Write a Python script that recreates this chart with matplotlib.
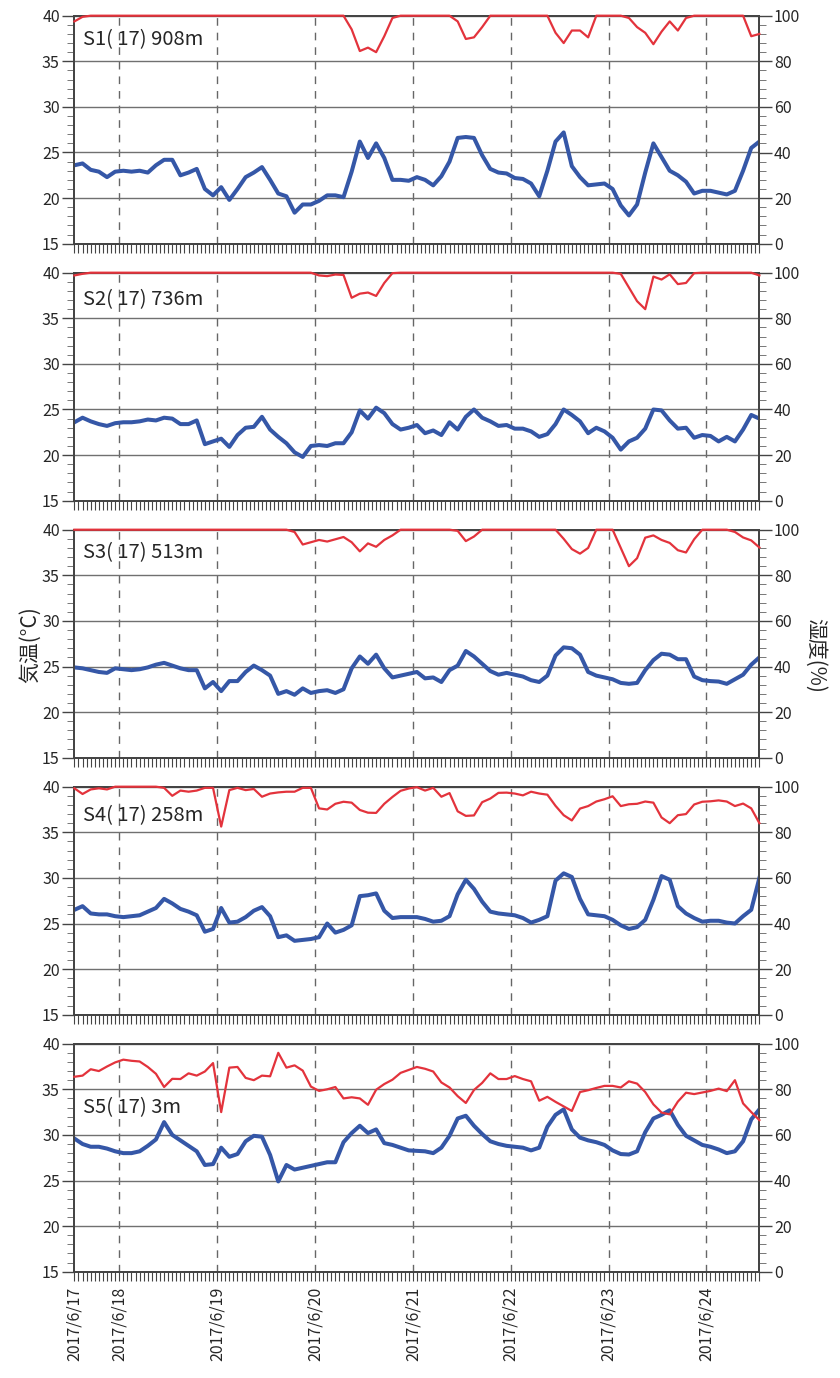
import numpy as np
import matplotlib
matplotlib.use("Agg")
import matplotlib.pyplot as plt
from matplotlib.ticker import MultipleLocator

plt.rcParams['font.family'] = ['Noto Sans CJK JP', 'DejaVu Sans']

# ---------------- data (2-hourly, hours since 2017/6/17 00:00, from 13h to 181h) ----------------
stations = ["S1( 17) 908m", "S2( 17) 736m", "S3( 17) 513m", "S4( 17) 258m", "S5( 17) 3m"]
date_labels = ["2017/6/17", "2017/6/18", "2017/6/19", "2017/6/20", "2017/6/21",
               "2017/6/22", "2017/6/23", "2017/6/24"]
day_hours = [24, 48, 72, 96, 120, 144, 168]

temp_s1 = [23.6, 23.8, 23.1, 22.9, 22.3, 22.9, 23.0, 22.9, 23.0, 22.8, 23.6, 24.2,
           24.2, 22.5, 22.8, 23.2, 21.0, 20.3, 21.2, 19.8, 21.0, 22.3, 22.8, 23.4,
           22.0, 20.5, 20.2, 18.4, 19.3, 19.3, 19.7, 20.3, 20.3, 20.1, 22.9, 26.2,
           24.4, 26.0, 24.4, 22.0, 22.0, 21.9, 22.3, 22.0, 21.4, 22.4, 24.0, 26.6,
           26.7, 26.6, 24.7, 23.2, 22.8, 22.7, 22.2, 22.1, 21.6, 20.2, 23.0, 26.2,
           27.2, 23.5, 22.3, 21.4, 21.5, 21.6, 21.0, 19.2, 18.1, 19.3, 22.8, 26.0,
           24.5, 23.0, 22.5, 21.8, 20.5, 20.8, 20.8, 20.6, 20.4, 20.8, 23.0, 25.5,
           26.2]
hum_s1 = [97.5, 99.5, 100, 100, 100, 100, 100, 100, 100, 100, 100, 100,
          100, 100, 100, 100, 100, 100, 100, 100, 100, 100, 100, 100,
          100, 100, 100, 100, 100, 100, 100, 100, 100, 100, 94, 84.5,
          86, 84, 91, 99, 100, 100, 100, 100, 100, 100, 100, 97.5,
          89.8, 90.5, 95, 100, 100, 100, 100, 100, 100, 100, 100, 92.5,
          88, 93.5, 93.5, 90.5, 100, 100, 100, 100, 99, 95, 92.5, 87.5,
          93, 97.5, 93.5, 99, 100, 100, 100, 100, 100, 100, 100, 91,
          92]

temp_s2 = [23.6, 24.1, 23.7, 23.4, 23.2, 23.5, 23.6, 23.6, 23.7, 23.9, 23.8, 24.1,
           24.0, 23.4, 23.4, 23.8, 21.2, 21.5, 21.8, 20.9, 22.2, 23.0, 23.1, 24.2,
           22.8, 22.0, 21.3, 20.3, 19.8, 21.0, 21.1, 21.0, 21.3, 21.3, 22.5, 24.9,
           24.0, 25.2, 24.6, 23.4, 22.8, 23.0, 23.3, 22.4, 22.7, 22.2, 23.6, 22.8,
           24.2, 25.0, 24.1, 23.7, 23.2, 23.3, 22.9, 22.9, 22.6, 22.0, 22.3, 23.4,
           25.0, 24.4, 23.7, 22.4, 23.0, 22.6, 21.9, 20.6, 21.5, 21.9, 22.9, 25.0,
           24.9, 23.8, 22.9, 23.0, 21.9, 22.2, 22.1, 21.5, 22.0, 21.5, 22.8, 24.4,
           24.0]
hum_s2 = [98.8, 99.5, 100, 100, 100, 100, 100, 100, 100, 100, 100, 100,
          100, 100, 100, 100, 100, 100, 100, 100, 100, 100, 100, 100,
          100, 100, 100, 100, 100, 100, 98.8, 98.5, 99.2, 99, 89, 90.8,
          91.3, 89.8, 95.5, 99.8, 100, 100, 100, 100, 100, 100, 100, 100,
          100, 100, 100, 100, 100, 100, 100, 100, 100, 100, 100, 100,
          100, 100, 100, 100, 100, 100, 100, 99.5, 93.5, 87.5, 84, 98.3,
          97, 99.3, 95, 95.5, 99.8, 100, 100, 100, 100, 100, 100, 100,
          98.8]

temp_s3 = [24.9, 24.8, 24.6, 24.4, 24.3, 24.8, 24.7, 24.6, 24.7, 24.9, 25.2, 25.4,
           25.1, 24.8, 24.6, 24.6, 22.6, 23.3, 22.3, 23.4, 23.4, 24.4, 25.1, 24.6,
           24.0, 22.0, 22.3, 21.9, 22.6, 22.1, 22.3, 22.4, 22.1, 22.5, 24.8, 26.1,
           25.3, 26.3, 24.8, 23.8, 24.0, 24.2, 24.4, 23.7, 23.8, 23.3, 24.6, 25.1,
           26.7, 26.1, 25.3, 24.5, 24.1, 24.3, 24.1, 23.9, 23.5, 23.3, 24.0, 26.2,
           27.1, 27.0, 26.3, 24.4, 24.0, 23.8, 23.6, 23.2, 23.1, 23.2, 24.6, 25.7,
           26.4, 26.3, 25.8, 25.8, 23.9, 23.5, 23.4, 23.35, 23.1, 23.6, 24.1, 25.2,
           26.0]
hum_s3 = [100, 100, 100, 100, 100, 100, 100, 100, 100, 100, 100, 100,
          100, 100, 100, 100, 100, 100, 100, 100, 100, 100, 100, 100,
          100, 100, 100, 99, 93.5, 94.5, 95.5, 94.8, 95.8, 96.8, 94.5, 90.5,
          94, 92.5, 95.5, 97.5, 100, 100, 100, 100, 100, 100, 100, 99.5,
          95, 97, 100, 100, 100, 100, 100, 100, 100, 100, 100, 100,
          96, 91.5, 89.5, 92, 100, 100, 100, 92, 84, 87.5, 96.5, 97.5,
          95.5, 94.2, 91, 90, 95.8, 100, 100, 100, 100, 99, 96.6, 95.3,
          92.2]

temp_s4 = [26.5, 26.9, 26.1, 26.0, 26.0, 25.8, 25.7, 25.8, 25.9, 26.3, 26.7, 27.7,
           27.2, 26.6, 26.3, 25.9, 24.1, 24.4, 26.7, 25.1, 25.2, 25.7, 26.4, 26.8,
           25.8, 23.5, 23.7, 23.1, 23.2, 23.3, 23.5, 25.0, 24.0, 24.3, 24.8, 28.0,
           28.1, 28.3, 26.4, 25.6, 25.7, 25.7, 25.7, 25.5, 25.2, 25.3, 25.8, 28.2,
           29.8, 28.8, 27.4, 26.3, 26.1, 26.0, 25.9, 25.6, 25.1, 25.4, 25.8, 29.7,
           30.5, 30.1, 27.7, 26.0, 25.9, 25.8, 25.4, 24.8, 24.4, 24.6, 25.4, 27.6,
           30.2, 29.8, 26.9, 26.1, 25.6, 25.2, 25.3, 25.3, 25.1, 25.0, 25.8, 26.5,
           30.0]
hum_s4 = [99.3, 96.8, 98.8, 99.3, 98.8, 100, 100, 100, 100, 100, 100, 99.5,
          96, 98.3, 97.8, 98.3, 99.5, 99.5, 82.5, 98.5, 99.5, 98.5, 99, 95.6,
          97, 97.5, 97.8, 97.8, 99.5, 99.5, 90.5, 90, 92.5, 93.4, 93, 89.8,
          88.6, 88.5, 92.5, 95.5, 98.2, 99.2, 99.8, 98.3, 99.5, 95.6, 97.2, 89.2,
          87.2, 87.4, 93.2, 94.8, 97.3, 97.4, 97.0, 96.2, 97.8, 97.0, 96.5, 91.6,
          87.5, 85.2, 90.4, 91.5, 93.5, 94.5, 95.8, 91.5, 92.3, 92.5, 93.5, 93.0,
          86.5, 84.0, 87.5, 88.0, 92.2, 93.4, 93.6, 94.0, 93.5, 91.5, 92.6, 90.5,
          84]

temp_s5 = [29.6, 29.0, 28.7, 28.7, 28.5, 28.2, 28.0, 28.0, 28.2, 28.8, 29.5, 31.4,
           30.0, 29.4, 28.8, 28.2, 26.7, 26.8, 28.6, 27.6, 27.9, 29.3, 29.9, 29.8,
           27.8, 24.9, 26.7, 26.2, 26.4, 26.6, 26.8, 27.0, 27.0, 29.2, 30.2, 31.0,
           30.2, 30.6, 29.1, 28.9, 28.6, 28.3, 28.25, 28.2, 28.0, 28.6, 29.9, 31.8,
           32.1, 31.0, 30.1, 29.3, 29.0, 28.8, 28.7, 28.6, 28.3, 28.6, 30.9, 32.2,
           32.8, 30.6, 29.7, 29.4, 29.2, 28.9, 28.3, 27.9, 27.85, 28.2, 30.3, 31.8,
           32.2, 32.7, 31.1, 29.9, 29.4, 28.9, 28.7, 28.4, 28.0, 28.2, 29.3, 31.7,
           32.8]
hum_s5 = [85.5, 86.0, 88.8, 88.0, 90.0, 91.8, 93.0, 92.5, 92.2, 89.8, 86.8, 81.0,
          84.6, 84.5, 87.0, 86.0, 87.8, 91.5, 70.0, 89.5, 89.8, 85.0, 84.0, 86.0,
          85.7, 96.0, 89.5, 90.5, 88.2, 81.2, 79.3, 80.0, 81.0, 76.0, 76.5, 76.0,
          73.2, 79.8, 82.3, 84.2, 87.2, 88.5, 89.8, 89.0, 87.8, 83.0, 80.8, 77.0,
          74.0, 79.7, 82.8, 87.0, 84.5, 84.5, 85.8, 84.5, 83.5, 75.0, 76.7, 74.5,
          72.5, 70.5, 78.8, 79.6, 80.6, 81.5, 81.5, 80.8, 83.5, 82.5, 78.8, 73.4,
          69.8, 69.0, 74.6, 78.5, 77.9, 78.6, 79.3, 80.3, 79.2, 84.0, 73.8, 70.0,
          66.5]

temps = [temp_s1, temp_s2, temp_s3, temp_s4, temp_s5]
hums = [hum_s1, hum_s2, hum_s3, hum_s4, hum_s5]
hours = 13 + 2 * np.arange(len(temp_s1))

# ---------------- layout ----------------
W, H = 840, 1378
fig = plt.figure(figsize=(W / 100, H / 100), dpi=100)
fig.patch.set_facecolor('white')

AX_L, AX_W, AX_H = 74.4, 685.0, 228.0
TOP0, PITCH = 15.7, 257.0
label_y = [0.893, 0.883, 0.90, 0.872, 0.72]

SPINE = '#444444'
TXT = '#262626'
BLUE = '#3557a7'
RED = '#e3333c'

for i in range(5):
    top = TOP0 + PITCH * i
    ax = fig.add_axes([AX_L / W, 1 - (top + AX_H) / H, AX_W / W, AX_H / H])
    ax.set_xlim(13, 181)
    ax.set_ylim(15, 40)
    ax.yaxis.set_major_locator(MultipleLocator(5))
    ax.yaxis.set_minor_locator(MultipleLocator(1))
    ax.grid(axis='y', which='major', color='#707070', lw=1.0, zorder=1)
    for d in day_hours:
        ax.axvline(d, color='#666666', lw=1.0, dashes=(5.5, 5), zorder=1)
    ax.plot(hours, temps[i], color=BLUE, lw=2.9, solid_joinstyle='round', zorder=3)

    ax.set_xticks([13] + day_hours)
    ax.set_xticks(np.arange(13, 182, 1), minor=True)
    ax.tick_params(axis='x', which='both', direction='out', length=6.5, width=0.8,
                   color=SPINE)
    if i == 4:
        ax.set_xticklabels(date_labels, rotation=90, fontsize=11.5, color=TXT)
        ax.tick_params(axis='x', which='major', pad=4)
    else:
        ax.set_xticklabels([])
    ax.tick_params(axis='y', which='major', direction='out', length=9, width=1.0,
                   pad=1.5, labelsize=11.5, labelcolor=TXT, color=SPINE)
    ax.tick_params(axis='y', which='minor', direction='out', length=5, width=0.7,
                   color='#777777')

    ax2 = ax.twinx()
    ax2.set_ylim(0, 100)
    ax2.yaxis.set_major_locator(MultipleLocator(20))
    ax2.yaxis.set_minor_locator(MultipleLocator(4))
    ax2.plot(hours, hums[i], color=RED, lw=1.6, solid_joinstyle='round', zorder=3,
             clip_on=False)
    ax2.tick_params(axis='y', which='major', direction='out', length=9, width=1.0,
                    pad=1.5, labelsize=11.5, labelcolor=TXT, color=SPINE)
    ax2.tick_params(axis='y', which='minor', direction='out', length=5, width=0.7,
                    color='#777777')

    for a in (ax, ax2):
        for s in a.spines.values():
            s.set_color(SPINE)
            s.set_linewidth(1.3)

    ax.text(0.012, label_y[i], stations[i], transform=ax.transAxes, fontsize=14.5,
            ha='left', va='center', color=TXT, zorder=5)

fig.text(30 / W, 1 - 645 / H, '気温(°C)', rotation=90, ha='center', va='center',
         fontsize=15, color=TXT)
fig.text(815 / W, 1 - 655 / H, '湿度(%)', rotation=270, ha='center', va='center',
         fontsize=15, color=TXT)

fig.savefig('out.png', dpi=100, facecolor='white')
